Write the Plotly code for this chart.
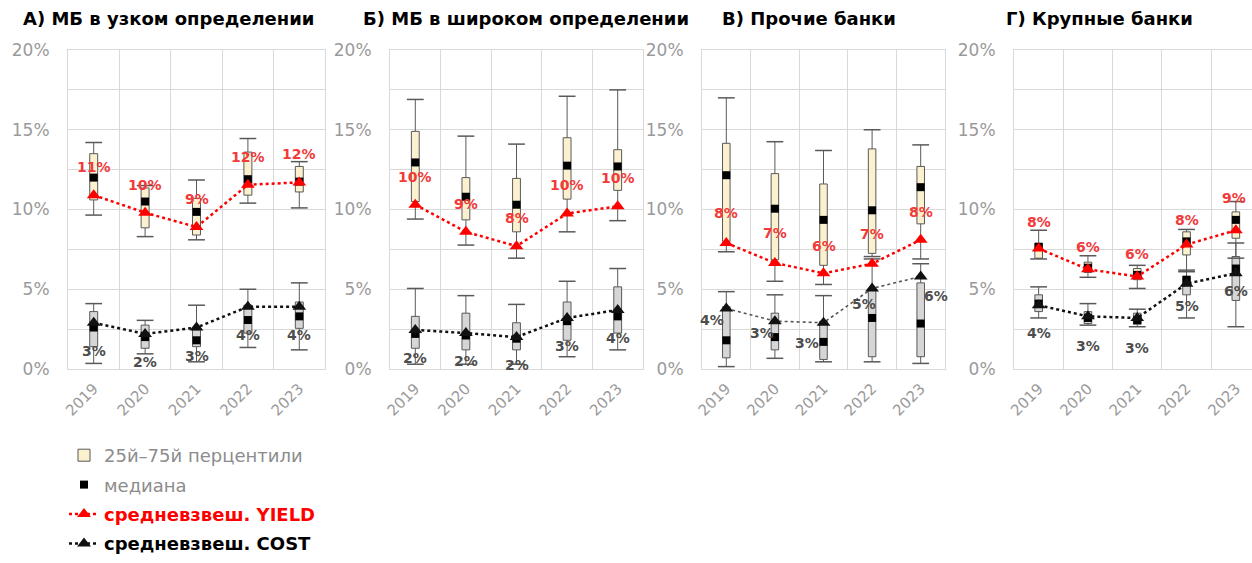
import plotly.graph_objects as go

# ---------------- data ----------------
years = [2019, 2020, 2021, 2022, 2023]
year_labels = ["2019", "2020", "2021", "2022", "2023"]
panel_titles = ["А) МБ в узком определении", "Б) МБ в широком определении",
                "В) Прочие банки", "Г) Крупные банки"]
legend_names = ["25й–75й перцентили", "медиана", "средневзвеш. YIELD", "средневзвеш. COST"]

# Panel A
a_yield_hi = [14.2, 11.5, 11.85, 14.45, 13.0]
a_yield_q3 = [13.5, 11.35, 10.7, 13.6, 12.7]
a_yield_med = [12.0, 10.5, 9.85, 11.9, 11.75]
a_yield_q1 = [10.6, 8.85, 8.4, 10.9, 11.1]
a_yield_lo = [9.65, 8.3, 8.1, 10.4, 10.1]
a_yield_w = [10.9, 9.8, 8.9, 11.55, 11.7]
a_cost_hi = [4.1, 3.05, 4.0, 5.0, 5.4]
a_cost_q3 = [3.6, 2.75, 2.45, 4.0, 4.2]
a_cost_med = [2.6, 2.0, 1.8, 3.07, 3.3]
a_cost_q1 = [1.4, 1.3, 1.4, 2.25, 2.55]
a_cost_lo = [0.35, 0.95, 0.45, 1.35, 1.2]
a_cost_w = [2.9, 2.2, 2.6, 3.9, 3.9]

# Panel B
b_yield_hi = [16.9, 14.6, 14.1, 17.1, 17.5]
b_yield_q3 = [14.9, 12.0, 11.95, 14.5, 13.75]
b_yield_med = [12.95, 10.8, 10.3, 12.75, 12.7]
b_yield_q1 = [10.5, 9.35, 8.6, 10.65, 11.2]
b_yield_lo = [9.4, 7.77, 6.95, 8.6, 9.3]
b_yield_w = [10.3, 8.6, 7.7, 9.75, 10.2]
b_cost_hi = [5.05, 4.6, 4.05, 5.5, 6.3]
b_cost_q3 = [3.3, 3.5, 2.9, 4.2, 5.15]
b_cost_med = [2.2, 2.1, 1.9, 3.0, 3.3]
b_cost_q1 = [1.3, 1.2, 1.2, 1.8, 2.25]
b_cost_lo = [0.3, 0.3, 0.3, 0.77, 1.2]
b_cost_w = [2.45, 2.25, 2.0, 3.2, 3.7]

# Panel C
c_yield_hi = [17.0, 14.25, 13.7, 15.0, 14.05]
c_yield_q3 = [14.15, 12.25, 11.6, 13.8, 12.7]
c_yield_med = [12.15, 10.05, 9.35, 9.95, 11.4]
c_yield_q1 = [8.0, 6.85, 6.5, 7.25, 9.1]
c_yield_lo = [7.35, 5.5, 5.3, 7.05, 6.9]
c_yield_w = [7.9, 6.65, 6.0, 6.6, 8.1]
c_cost_hi = [4.85, 4.65, 4.6, 6.9, 6.6]
c_cost_q3 = [3.9, 3.5, 3.0, 5.0, 5.4]
c_cost_med = [1.8, 2.0, 1.7, 3.2, 2.85]
c_cost_q1 = [0.7, 1.2, 0.6, 0.77, 0.77]
c_cost_lo = [0.15, 0.67, 0.45, 0.45, 0.35]
c_cost_w = [3.8, 3.0, 2.9, 5.05, 5.8]

# Panel D
d_yield_hi = [8.7, 7.1, 6.5, 8.75, 10.5]
d_yield_q3 = [7.9, 6.7, 6.3, 8.6, 9.85]
d_yield_med = [7.65, 6.35, 5.9, 8.0, 9.35]
d_yield_q1 = [6.95, 6.05, 5.6, 7.15, 8.2]
d_yield_lo = [6.9, 5.75, 5.05, 6.1, 6.95]
d_yield_w = [7.55, 6.25, 5.8, 7.8, 8.7]
d_cost_hi = [5.15, 4.1, 3.75, 6.2, 7.9]
d_cost_q3 = [4.65, 3.6, 3.5, 5.8, 7.05]
d_cost_med = [4.1, 3.2, 3.07, 5.6, 6.3]
d_cost_q1 = [3.6, 2.85, 2.8, 4.65, 4.3]
d_cost_lo = [3.2, 2.75, 2.65, 3.2, 2.65]
d_cost_w = [4.0, 3.3, 3.2, 5.35, 6.0]

# ---------------- styling / layout config ----------------
W, H = 1252, 563
FONT = "DejaVu Sans"
YIELD_FILL = "#FCF1CF"
COST_FILL = "#D6D6D6"
BOX_LINE = "#595959"
RED = "#FF0000"
RED_LABEL = "#F23A3A"
BLACK = "#111111"
COST_LABEL = "#4D4D4D"
GRID = "#D9D9D9"
TICK_COLOR = "#9A9A9A"

# plot areas in pixels (left, right) ; all share top/bottom
px_x = [(68, 325), (390, 643), (702, 945), (1014, 1252)]
x_end = [2023.5, 2023.5, 2023.5, 2018.5 + (1252 - 1014) / 49.3]
px_top, px_bottom = 50, 369
title_center = [168, 526, 809, 1099]

# cost line style per panel (width, colour)
cost_line_style = [(2.5, BLACK), (2.5, BLACK), (1.6, "#555555"), (2.5, BLACK)]

# label offsets (xshift, yshift) for cost labels per panel
cost_label_shift = [
    [(0, -28)] * 5,
    [(0, -28)] * 5,
    [(-14, -12), (-13, -12), (-17, -20), (-8, -16), (15, -20)],
    [(0, -28), (0, -30), (0, -30), (0, -22), (0, -18)],
]
yield_label_shift = [
    [(0, 28)] * 5,
    [(0, 28)] * 5,
    [(0, 30), (0, 30), (0, 27), (0, 30), (0, 28)],
    [(0, 27), (0, 22), (0, 22), (0, 25), (-2, 32)],
]

panels = [
    (a_yield_hi, a_yield_q3, a_yield_med, a_yield_q1, a_yield_lo, a_yield_w,
     a_cost_hi, a_cost_q3, a_cost_med, a_cost_q1, a_cost_lo, a_cost_w),
    (b_yield_hi, b_yield_q3, b_yield_med, b_yield_q1, b_yield_lo, b_yield_w,
     b_cost_hi, b_cost_q3, b_cost_med, b_cost_q1, b_cost_lo, b_cost_w),
    (c_yield_hi, c_yield_q3, c_yield_med, c_yield_q1, c_yield_lo, c_yield_w,
     c_cost_hi, c_cost_q3, c_cost_med, c_cost_q1, c_cost_lo, c_cost_w),
    (d_yield_hi, d_yield_q3, d_yield_med, d_yield_q1, d_yield_lo, d_yield_w,
     d_cost_hi, d_cost_q3, d_cost_med, d_cost_q1, d_cost_lo, d_cost_w),
]

fig = go.Figure()
annotations = []
layout_axes = {}

for i, p in enumerate(panels):
    (y_hi, y_q3, y_med, y_q1, y_lo, y_w, c_hi, c_q3, c_med, c_q1, c_lo, c_w) = p
    xa = "x" if i == 0 else f"x{i + 1}"
    ya = "y" if i == 0 else f"y{i + 1}"
    first = i == 0

    # boxes
    for (hi, q3, med, q1, lo, fill, show) in [
        (y_hi, y_q3, y_med, y_q1, y_lo, YIELD_FILL, first),
        (c_hi, c_q3, c_med, c_q1, c_lo, COST_FILL, False),
    ]:
        fig.add_trace(go.Box(
            x=years, q1=q1, median=med, q3=q3, lowerfence=lo, upperfence=hi,
            width=0.155, whiskerwidth=0, fillcolor=fill, boxpoints=False,
            line=dict(color=BOX_LINE, width=1), xaxis=xa, yaxis=ya,
            name=legend_names[0], legendgroup="g1", legendrank=1,
            showlegend=show, hoverinfo="skip"))
        # whisker caps
        fig.add_trace(go.Scatter(
            x=years + years, y=list(hi) + list(lo), mode="markers",
            marker=dict(symbol="line-ew", size=12, line=dict(width=1.5, color=BOX_LINE)),
            xaxis=xa, yaxis=ya, showlegend=False, hoverinfo="skip"))

    # medians
    for j, med in enumerate([y_med, c_med]):
        fig.add_trace(go.Scatter(
            x=years, y=med, mode="markers",
            marker=dict(symbol="square", size=8, color="#000000"),
            xaxis=xa, yaxis=ya, name=legend_names[1], legendgroup="g2", legendrank=2,
            showlegend=(first and j == 0), hoverinfo="skip"))

    # weighted averages
    fig.add_trace(go.Scatter(
        x=years, y=y_w, mode="lines+markers",
        line=dict(color=RED, width=2.5, dash="dot"),
        marker=dict(symbol="triangle-up", size=12, color=RED),
        xaxis=xa, yaxis=ya,
        name=f"<b><span style='color:{RED}'>{legend_names[2]}</span></b>",
        legendgroup="g3", legendrank=3, showlegend=first, hoverinfo="skip"))
    lw, lc = cost_line_style[i]
    fig.add_trace(go.Scatter(
        x=years, y=c_w, mode="lines+markers",
        line=dict(color=lc, width=lw, dash="dot"),
        marker=dict(symbol="triangle-up", size=12, color=BLACK),
        xaxis=xa, yaxis=ya,
        name=f"<b><span style='color:#000000'>{legend_names[3]}</span></b>",
        legendgroup="g4", legendrank=4, showlegend=first, hoverinfo="skip"))

    # data labels
    for k, yr in enumerate(years):
        xs, ys = yield_label_shift[i][k]
        annotations.append(dict(
            x=yr, y=y_w[k], xref=xa, yref=ya, showarrow=False, xshift=xs, yshift=ys,
            text=f"<b>{round(y_w[k])}%</b>",
            font=dict(family=FONT, size=14, color=RED_LABEL)))
        xs, ys = cost_label_shift[i][k]
        annotations.append(dict(
            x=yr, y=c_w[k], xref=xa, yref=ya, showarrow=False, xshift=xs, yshift=ys,
            text=f"<b>{round(c_w[k])}%</b>",
            font=dict(family=FONT, size=14, color=COST_LABEL)))

    # title
    annotations.append(dict(
        x=title_center[i] / W, y=(H - 18) / H, xref="paper", yref="paper",
        showarrow=False, xanchor="center", yanchor="middle",
        text=f"<b>{panel_titles[i]}</b>",
        font=dict(family=FONT, size=18, color="#000000")))

    xkey = "xaxis" if i == 0 else f"xaxis{i + 1}"
    ykey = "yaxis" if i == 0 else f"yaxis{i + 1}"
    layout_axes[xkey] = dict(
        domain=[px_x[i][0] / W, px_x[i][1] / W], anchor=ya,
        range=[2018.5, x_end[i]], tickmode="array", tickvals=years, ticktext=year_labels,
        tickangle=-45, showgrid=False, zeroline=False,
        showline=True, linecolor=GRID, linewidth=1, mirror=True,
        minor=dict(tickvals=[2018.5, 2019.5, 2020.5, 2021.5, 2022.5, 2023.5],
                   showgrid=True, gridcolor=GRID, gridwidth=1),
        ticks="outside", ticklen=4, tickcolor="rgba(0,0,0,0)",
        tickfont=dict(family=FONT, size=15, color=TICK_COLOR), fixedrange=True,
        automargin=False)
    layout_axes[ykey] = dict(
        domain=[(H - px_bottom) / H, (H - px_top) / H], anchor=xa,
        range=[0, 20], tickmode="array", tickvals=[0, 5, 10, 15, 20],
        ticktext=["0%", "5%", "10%", "15%", "20%"],
        showgrid=True, gridcolor=GRID, gridwidth=1, zeroline=False,
        showline=True, linecolor=GRID, linewidth=1, mirror=True,
        minor=dict(tickvals=[2.5, 7.5, 12.5, 17.5], showgrid=True, gridcolor=GRID, gridwidth=1),
        ticks="outside", ticklen=14, tickcolor="rgba(0,0,0,0)",
        tickfont=dict(family=FONT, size=17, color=TICK_COLOR), fixedrange=True,
        automargin=False)

fig.update_layout(
    width=W, height=H, margin=dict(l=0, r=0, t=0, b=0, autoexpand=False),
    paper_bgcolor="white", plot_bgcolor="white",
    boxmode="overlay",
    annotations=annotations,
    legend=dict(x=64 / W, y=(H - 437) / H, xanchor="left", yanchor="top",
                font=dict(family=FONT, size=18, color="#8C8C8C"),
                tracegroupgap=3, bgcolor="rgba(0,0,0,0)", traceorder="grouped"),
    **layout_axes,
)

fig.write_html(
    "out.html",
    config={"displayModeBar": False},
    post_script="document.body.style.margin='0';document.body.style.padding='0';",
)
